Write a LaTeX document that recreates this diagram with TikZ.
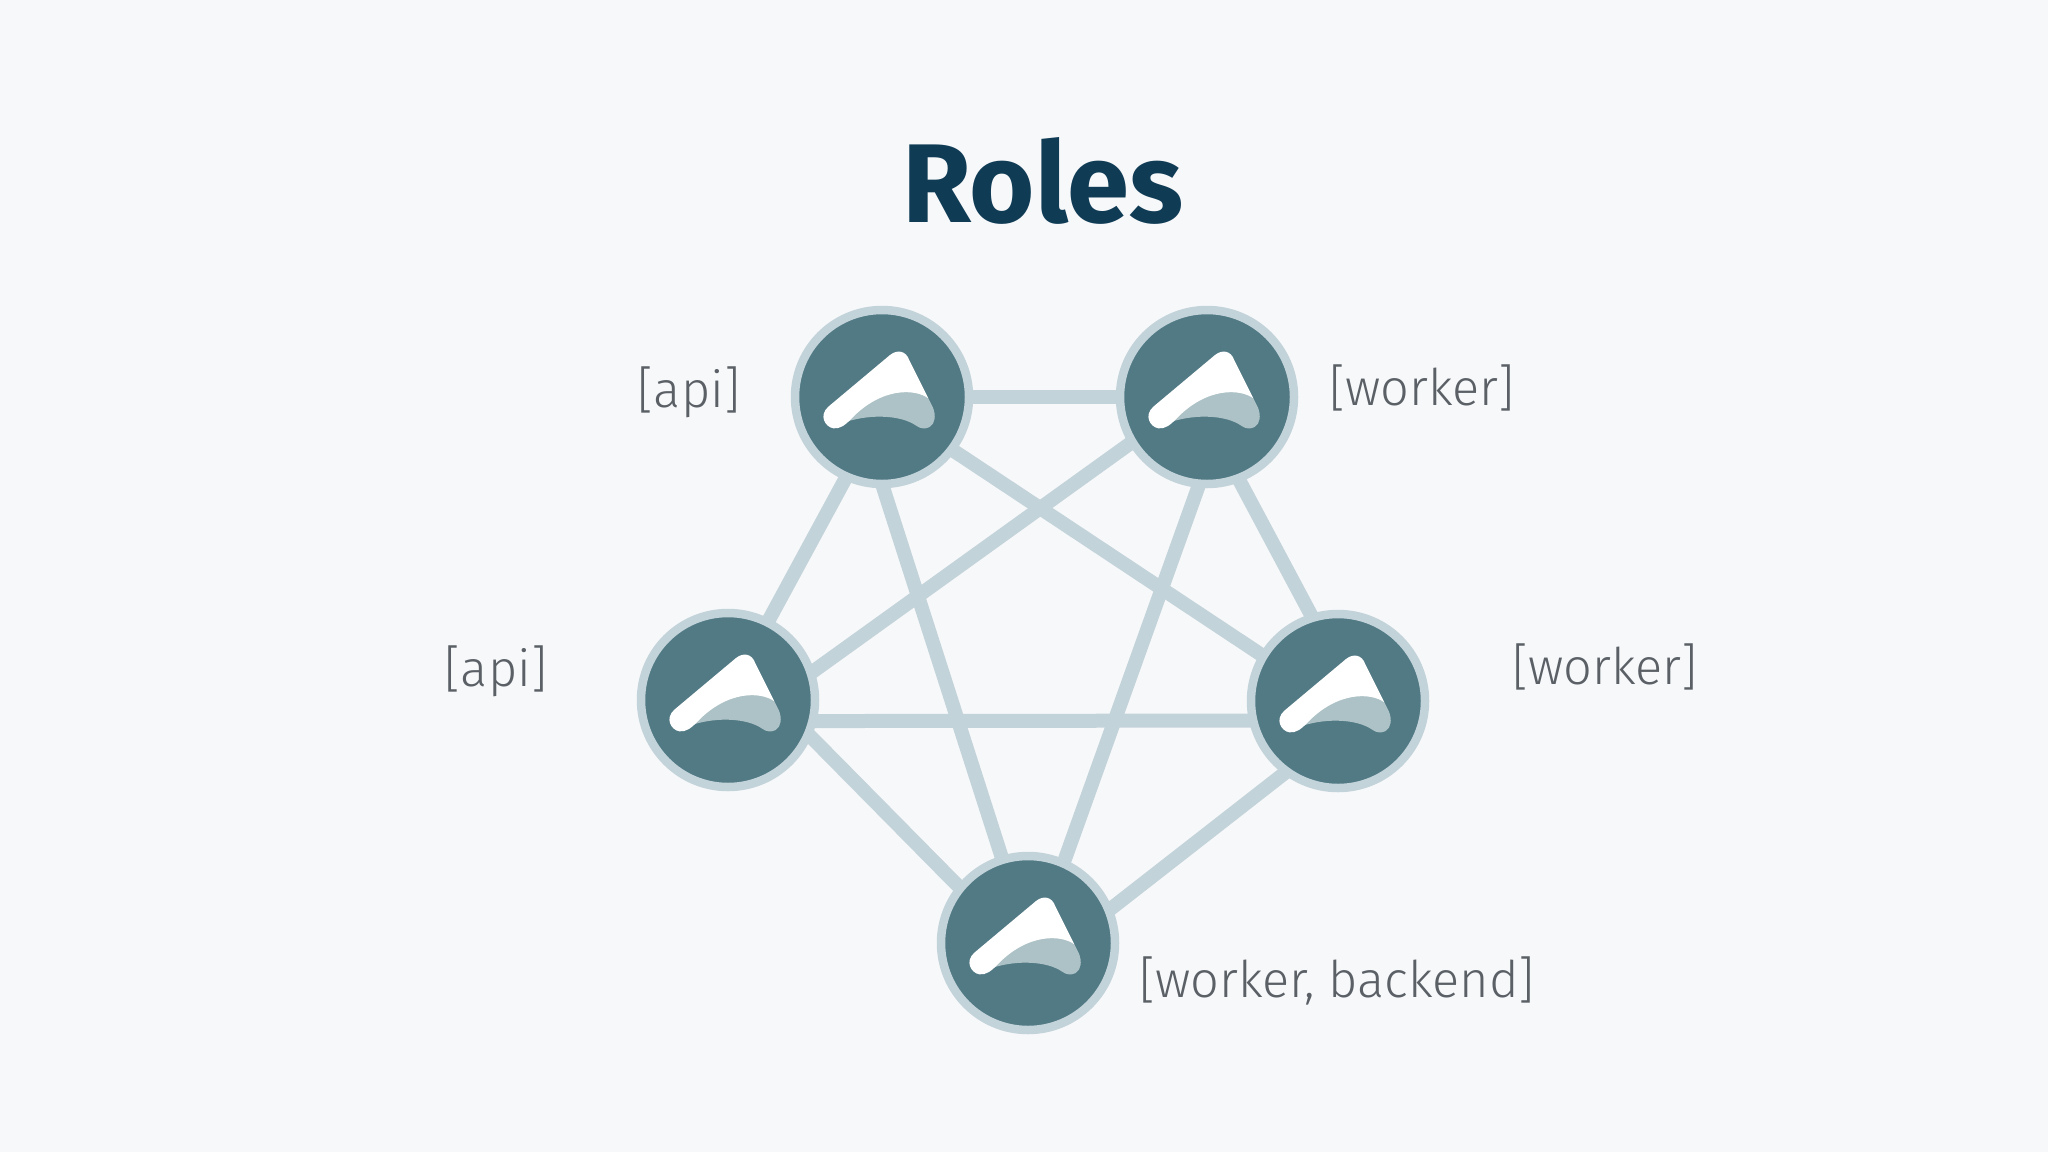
\documentclass[tikz,border=0pt]{standalone}
\usepackage{fontspec}
\setmainfont{Fira Sans}
\newfontfamily\labelfont{Fira Sans Light}
\newfontfamily\titlefont{Fira Sans}[UprightFont=*,BoldFont=* Bold]
\usetikzlibrary{backgrounds}
\definecolor{pagebg}{HTML}{F7F8FA}
\definecolor{ringc}{HTML}{C3D3DA}
\definecolor{tealc}{HTML}{527A85}
\definecolor{softc}{HTML}{ADC2C6}
\definecolor{titlec}{HTML}{0F3B55}
\definecolor{labelc}{HTML}{5A6066}
\tikzset{
  peer/.style={circle,draw=ringc,line width=8.5pt,fill=tealc,minimum size=174pt,inner sep=0pt,outer sep=0pt},
  link/.style={ringc,line width=14pt},
  rolelabel/.style={text=labelc,font=\labelfont\fontsize{50.5pt}{60pt}\selectfont,inner sep=0pt},
  logo/.pic={
    \begin{scope}[x=0.3333pt,y=-0.3333pt]
      \fill[softc] (139,4) -- (153,32)
        .. controls (162,55) and (160,80) .. (143,90)
        .. controls (130,97) and (115,95) .. (104,87)
        .. controls (60,55) and (-30,50) .. (-106,74)
        -- (-60,0) -- (60,-60) -- cycle;
      \fill[white] (-161,29) -- (24,-126)
        .. controls (45,-143) and (72,-140) .. (82,-110)
        -- (139,4)
        .. controls (100,-25) and (0,-30) .. (-91,64)
        .. controls (-110,84) and (-125,96) .. (-146,94)
        .. controls (-170,90) and (-191,56) .. (-161,29) -- cycle;
    \end{scope}
  }
}
\begin{document}
\begin{tikzpicture}[x=1pt,y=-1pt]
  \useasboundingbox (0,0) rectangle (2048,1152);
  \node[peer] (tl) at (882,397) {};
  \node[peer] (tr) at (1207,397) {};
  \node[peer] (lf) at (728,700) {};
  \node[peer] (rt) at (1338,701) {};
  \node[peer] (bt) at (1028,943) {};
  \pic at (tl.center) {logo};
  \pic at (tr.center) {logo};
  \pic at (lf.center) {logo};
  \pic at (rt.center) {logo};
  \pic at (bt.center) {logo};
  \node[font=\titlefont\bfseries\fontsize{112pt}{120pt}\selectfont,text=titlec,inner sep=0pt] (title) at (1043,181) {Roles};
  \node[rolelabel] (l1) at (689,392) {[api]};
  \node[rolelabel] (l2) at (1422,388) {[worker]};
  \node[rolelabel] (l3) at (496,671) {[api]};
  \node[rolelabel] (l4) at (1605,667) {[worker]};
  \node[rolelabel] (l5) at (1337,981) {[worker, backend]};
  \begin{pgfonlayer}{background}
    \fill[pagebg] (0,0) rectangle (2048,1152);
    \draw[link] (tl.0) -- (tr.180);
    \draw[link] (tl.246) -- (lf.63);
    \draw[link] (tl.323) -- (rt.149);
    \draw[link] (tl.270) -- (bt.107);
    \draw[link] (tr.211) -- (lf.18);
    \draw[link] (tr.291) -- (rt.107);
    \draw[link] (tr.265) -- (bt.66);
    \draw[link] (lf.346) -- (rt.193.3);
    \draw[link] (lf.337) -- (bt.141);
    \draw[link] (rt.234) -- (bt.22);
  \end{pgfonlayer}
\end{tikzpicture}
\end{document}
